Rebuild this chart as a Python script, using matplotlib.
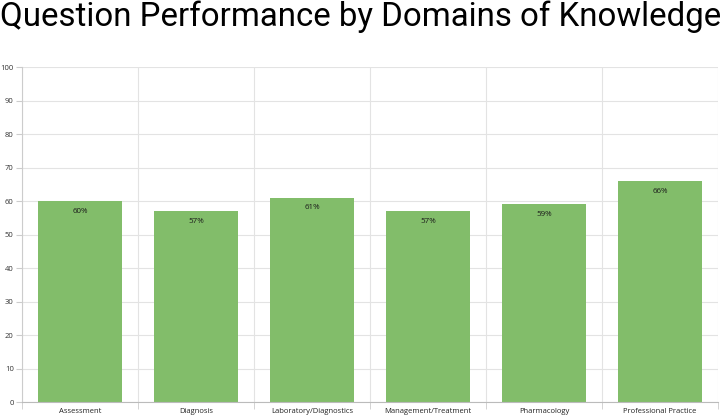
import numpy as np
import matplotlib.pyplot as plt

domains = ["Assessment", "Diagnosis", "Laboratory/Diagnostics",
           "Management/Treatment", "Pharmacology", "Professional Practice"]
scores = [60, 57, 61, 57, 59, 66]
yticks = list(range(0, 101, 10))

fig = plt.figure(figsize=(7.25, 4.19), dpi=100)
ax = fig.add_axes([22 / 725, 17 / 419, 696 / 725, 335 / 419])

x = np.arange(len(domains))
bars = ax.bar(x, scores, width=0.72, color="#82bd6a", zorder=2)

for b, v in zip(bars, scores):
    ax.text(b.get_x() + b.get_width() / 2, v - 2.0, f"{v}%",
            ha="center", va="top", fontsize=5.8, family="Open Sans",
            color="#1a1a1a", zorder=3)

ax.set_xlim(-0.5, len(domains) - 0.5)
ax.set_ylim(0, 100)
ax.set_yticks(yticks)
ax.set_yticklabels([str(t) for t in yticks], fontsize=5.5, family="Open Sans",
                   color="#333333")
ax.set_xticks(x)
ax.set_xticklabels(domains, fontsize=5.5, family="Open Sans", color="#222222")
ax.tick_params(axis="x", length=0, pad=4)
ax.tick_params(axis="y", length=4, color="#cccccc", pad=2)

# category boundary lines
bounds = np.arange(len(domains) + 1) - 0.5
ax.set_xticks(bounds, minor=True)
ax.tick_params(axis="x", which="minor", length=5, color="#cccccc")
ax.grid(axis="x", which="minor", color="#e3e3e3", lw=0.8, zorder=0)
ax.grid(axis="y", which="major", color="#e3e3e3", lw=0.8, zorder=0)

for s in ["top", "right"]:
    ax.spines[s].set_visible(False)
ax.spines["left"].set_color("#cccccc")
ax.spines["bottom"].set_color("#bbbbbb")

fig.text(0, 1 - 26 / 419, "Question Performance by Domains of Knowledge",
         ha="left", va="baseline", fontsize=23.8, family="Roboto", color="black")

fig.savefig("out.png", dpi=100)
